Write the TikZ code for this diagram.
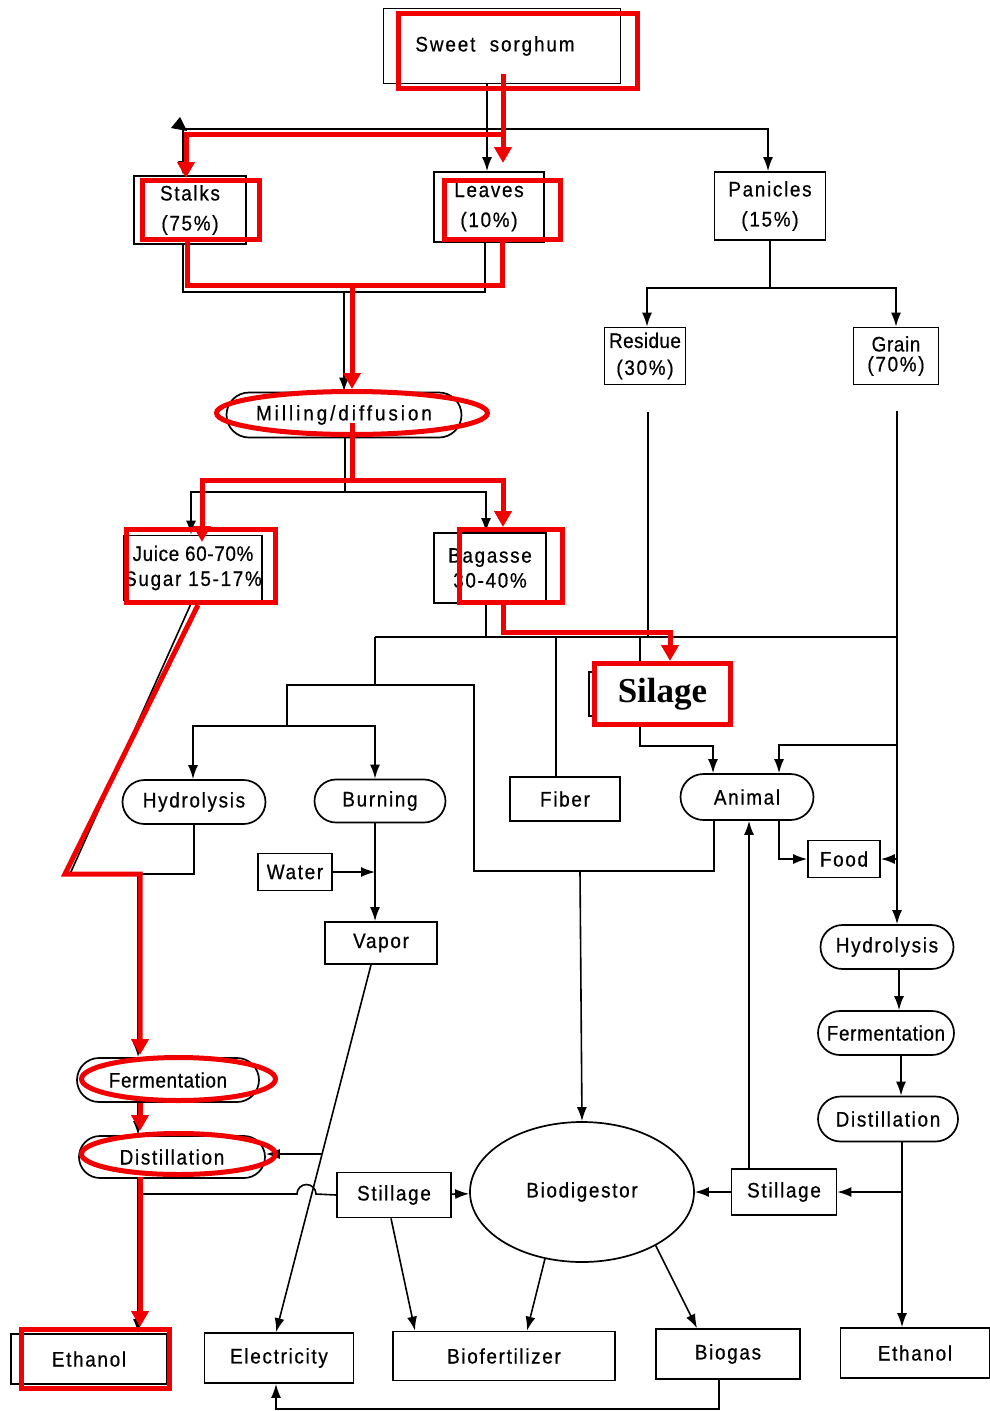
\documentclass[tikz,border=0pt]{standalone}
\usepackage{fontspec}
\setmainfont{Liberation Sans}[FakeStretch=0.9,LetterSpace=8,FakeBold=0.6]
\newfontfamily\silagefont{Liberation Serif}
\usetikzlibrary{arrows.meta,shapes.misc,shapes.geometric}
\definecolor{hlred}{RGB}{240,0,0}

\tikzset{
  every node/.style={font=\fontsize{21}{25}\selectfont},
  box/.style={draw, line width=1.7pt, align=center, inner sep=0pt},
  proc/.style={draw, rounded rectangle, line width=1.7pt, align=center, inner sep=0pt},
  flow/.style={line width=1.6pt},
  arr/.style={line width=1.6pt, -{Latex[length=14pt,width=10pt]}},
  hlbox/.style={draw=hlred, line width=5pt, inner sep=0pt},
  hloval/.style={draw=hlred, ellipse, line width=5pt, inner sep=0pt},
  hl/.style={draw=hlred, line width=5pt},
  hlarr/.style={draw=hlred, line width=5pt, -{Triangle[length=16pt,width=17pt]}}
}

\begin{document}
\begin{tikzpicture}[x=1pt,y=-1pt]
  \useasboundingbox (0,0) rectangle (990,1411);

  % black flow chart
  \node[box, minimum width=237pt, minimum height=75pt] (sorghum) at (502,46) {\addfontfeature{LetterSpace=9}Sweet\ \ sorghum\hspace*{14pt}};
  \node[box, minimum width=112pt, minimum height=68pt] (stalks) at (190,210) {Stalks\\[5pt](75\%)};
  \node[box, minimum width=110pt, minimum height=70pt] (leaves) at (489,207) {Leaves\\[5pt](10\%)};
  \node[box, minimum width=111pt, minimum height=68pt] (panicles) at (770,206) {Panicles\\[5pt](15\%)};
  \node[box, minimum width=81pt, minimum height=57pt] (residue) at (645,356) {\addfontfeature{LetterSpace=2}Residue\\[2pt](30\%)};
  \node[box, minimum width=85pt, minimum height=57pt] (grain) at (896,356) {\addfontfeature{LetterSpace=3}Grain\\[-5pt](70\%)};
  \node[proc, minimum width=235pt, minimum height=45pt] (milling) at (344,415) {\addfontfeature{LetterSpace=14}Milling/diffusion};
  \node[box, minimum width=138pt, minimum height=65pt] (juice) at (193,568) {\addfontfeature{LetterSpace=3}Juice 60-70\%\\[0pt]Sugar\ 15-17\%};
  \node[box, minimum width=112pt, minimum height=70pt] (bagasse) at (490,568) {Bagasse\\[0pt]30-40\%};
  \node[box, minimum width=100pt, minimum height=44pt] (silageOld) at (639,694) {};
  \node[box, minimum width=110pt, minimum height=44pt] (fiber) at (565,799) {Fiber};
  \node[proc, minimum width=143pt, minimum height=44pt] (hydroL) at (194,802) {Hydrolysis};
  \node[proc, minimum width=131pt, minimum height=43pt] (burning) at (380,801) {Burning};
  \node[proc, minimum width=133pt, minimum height=46pt] (animal) at (747,797) {Animal};
  \node[box, minimum width=72pt, minimum height=37pt] (food) at (844,859) {Food};
  \node[box, minimum width=74pt, minimum height=37pt] (water) at (295,872) {Water};
  \node[box, minimum width=112pt, minimum height=42pt] (vapor) at (381,943) {Vapor};
  \node[proc, minimum width=133pt, minimum height=44pt] (hydroR) at (887,947) {Hydrolysis};
  \node[proc, minimum width=136pt, minimum height=44pt] (fermR) at (886,1033) {\addfontfeature{LetterSpace=3}Fermentation};
  \node[proc, minimum width=140pt, minimum height=45pt] (distR) at (888,1119) {Distillation};
  \node[proc, minimum width=182pt, minimum height=44pt] (fermL) at (168,1080) {\addfontfeature{LetterSpace=3}Fermentation};
  \node[proc, minimum width=186pt, minimum height=42pt] (distL) at (172,1157) {Distillation};
  \node[box, minimum width=114pt, minimum height=45pt] (stillL) at (394,1195) {Stillage};
  \node[box, minimum width=105pt, minimum height=46pt] (stillR) at (784,1192) {Stillage};
  \node[draw, ellipse, line width=1.7pt, inner sep=0pt, minimum width=224pt, minimum height=140pt] (biodig) at (582,1192) {Biodigestor};
  \node[box, minimum width=156pt, minimum height=50pt] (ethanolL) at (89,1359) {Ethanol};
  \node[box, minimum width=149pt, minimum height=50pt] (electricity) at (279,1358) {Electricity};
  \node[box, minimum width=222pt, minimum height=49pt] (biofert) at (504,1356) {Biofertilizer};
  \node[box, minimum width=144pt, minimum height=50pt] (biogas) at (728,1354) {Biogas};
  \node[box, minimum width=149pt, minimum height=50pt] (ethanolR) at (915,1353) {Ethanol};

  % junctions
  \coordinate (sA) at (487,129);
  \coordinate (jA) at (344,292);
  \coordinate (pA) at (770,288);
  \coordinate (rA) at (648,412);
  \coordinate (gA) at (897,411);
  \coordinate (mA) at (345,492);
  \coordinate (bA) at (486,637);
  \coordinate (bL) at (375,637);
  \coordinate (lA) at (375,685);

  \draw[flow] (sorghum.south -| sA) -- (sA);
  \draw[arr] (sA) -| (183,0 |- stalks.north);
  \draw[arr] (sA) -- (leaves.north -| sA);
  \draw[arr] (sA) -| (768,0 |- panicles.north);
  \fill (180,117) -- (171,128) -- (187,131) -- cycle;

  \draw[flow] (183,0 |- stalks.south) |- (jA) -| (485,0 |- leaves.south);
  \draw[arr] (jA) -- (milling.north -| jA);

  \draw[flow] (panicles.south -| pA) -- (pA);
  \draw[arr] (pA) -| (647,0 |- residue.north);
  \draw[arr] (pA) -| (896,0 |- grain.north);
  \draw[flow] (rA) -- (rA |- bA);
  \draw[arr] (gA) -- (gA |- hydroR.north);

  \draw[flow] (milling.south -| mA) -- (mA);
  \draw[arr] (mA) -| (191,0 |- juice.north);
  \draw[arr] (mA) -| (486,0 |- bagasse.north);

  \draw[flow] (bagasse.south -| bA) -- (bA);
  \draw[flow] (bL) -- (gA |- bA);
  \draw[flow] (556,0 |- bA) -- (556,0 |- fiber.north);
  \draw[arr] (640,0 |- bA) |- (713,746) -- (713,0 |- animal.north);
  \draw[arr] (gA |- 0,745) -| (779,0 |- animal.north);

  \draw[flow] (bL) -- (lA);
  \draw[flow] (287,726) |- (474,685) -- (474,871) -- (714,871) -- (714,0 |- animal.south);
  \draw[arr] (287,726) -| (193,0 |- hydroL.north);
  \draw[arr] (287,726) -| (375,0 |- burning.north);
  \draw[arr] (580,871) -- (biodig.north);

  \draw[flow] (194,0 |- hydroL.south) |- (70,874) -- (192,0 |- juice.south);
  \draw[arr] (138,874) -- (138,0 |- fermL.north);
  \draw[arr] (138,0 |- fermL.south) -- (138,0 |- distL.north);
  \draw[arr] (138,0 |- distL.south) -- (138,0 |- ethanolL.north);

  \draw[arr] (375,0 |- burning.south) -- (375,0 |- vapor.north);
  \draw[arr] (water.east) -- (water.east -| 375,0);
  \draw[arr] (371,0 |- vapor.south) -- (276,0 |- electricity.north);
  \draw[arr] (322,1154) -- (distL.east |- 322,1154);
  \draw[flow] (140,1194) -- (297,1194) arc[start angle=180, end angle=0, radius=9.5pt] -- (stillL.west);

  \draw[arr] (stillL) -- (biodig);
  \draw[arr] (stillR) -- (biodig);
  \draw[arr] (749,0 |- stillR.north) -- (749,0 |- animal.south);
  \draw[arr] (779,0 |- animal.south) |- (food.west);
  \draw[arr] (gA |- food.east) -- (food.east);

  \draw[arr] (899,0 |- hydroR.south) -- (899,0 |- fermR.north);
  \draw[arr] (901,0 |- fermR.south) -- (901,0 |- distR.north);
  \draw[arr] (902,0 |- distR.south) -- (902,0 |- ethanolR.north);
  \draw[arr] (stillR.east -| 902,0) -- (stillR.east);

  \draw[arr] (391,0 |- stillL.south) -- (415,0 |- biofert.north);
  \draw[arr] (biodig.241) -- (527,0 |- biofert.north);
  \draw[arr] (biodig.324) -- (697,0 |- biogas.north);
  \draw[arr] (719,0 |- biogas.south) |- (276,1409) -- (276,0 |- electricity.south);

  % red marks
  \node[hlbox, minimum width=239pt, minimum height=75pt] (hlSorghum) at (518,51) {};
  \node[hlbox, minimum width=117pt, minimum height=59pt] (hlStalks) at (201,210) {};
  \node[hlbox, minimum width=116pt, minimum height=59pt] (hlLeaves) at (502.5,210) {};
  \node[hloval, minimum width=271pt, minimum height=43pt] (hlMilling) at (352,413) {};
  \node[hlbox, minimum width=149pt, minimum height=73pt] (hlJuice) at (201,566) {};
  \node[hlbox, minimum width=103pt, minimum height=73pt] (hlBagasse) at (511,566) {};
  \node[hlbox, fill=white, minimum width=136pt, minimum height=61pt,
        font=\silagefont\bfseries\fontsize{35}{40}\selectfont] (hlSilage) at (662.5,694) {Silage};
  \node[hloval, minimum width=194pt, minimum height=43pt] (hlFerm) at (178.5,1079) {};
  \node[hloval, minimum width=194pt, minimum height=41pt] (hlDist) at (178.5,1154) {};
  \node[hlbox, minimum width=148pt, minimum height=59pt] (hlEthanol) at (95.5,1359) {};

  \coordinate (rTop) at (503,74);
  \coordinate (rFork) at (503,134);
  \coordinate (rJoin) at (352,285);
  \coordinate (rSplit) at (352,480);

  \draw[hlarr] (rTop) -- (rFork |- 0,163);
  \draw[hlarr] (rFork) -| (186,0 |- hlStalks.north);
  \draw[hl] (187,0 |- hlStalks.south) |- (rJoin) -| (hlLeaves.south);
  \draw[hlarr] (rJoin) -- (hlMilling.north);
  \draw[hl] (rSplit |- 0,423) -- (rSplit);
  \draw[hlarr] (rSplit) -| (202,542);
  \draw[hlarr] (rSplit) -| (503,0 |- hlBagasse.north);
  \draw[hlarr] (503,0 |- hlBagasse.south) |- (670,632) -- (670,0 |- hlSilage.north);
  \draw[hlarr] (198,0 |- hlJuice.south) -- (65,874) -- (140,874) -- (140,0 |- hlFerm.north);
  \draw[hlarr] (140,0 |- hlFerm.south) -- (140,0 |- hlDist.north);
  \draw[hlarr] (140,0 |- hlDist.south) -- (140,0 |- hlEthanol.north);
\end{tikzpicture}
\end{document}
